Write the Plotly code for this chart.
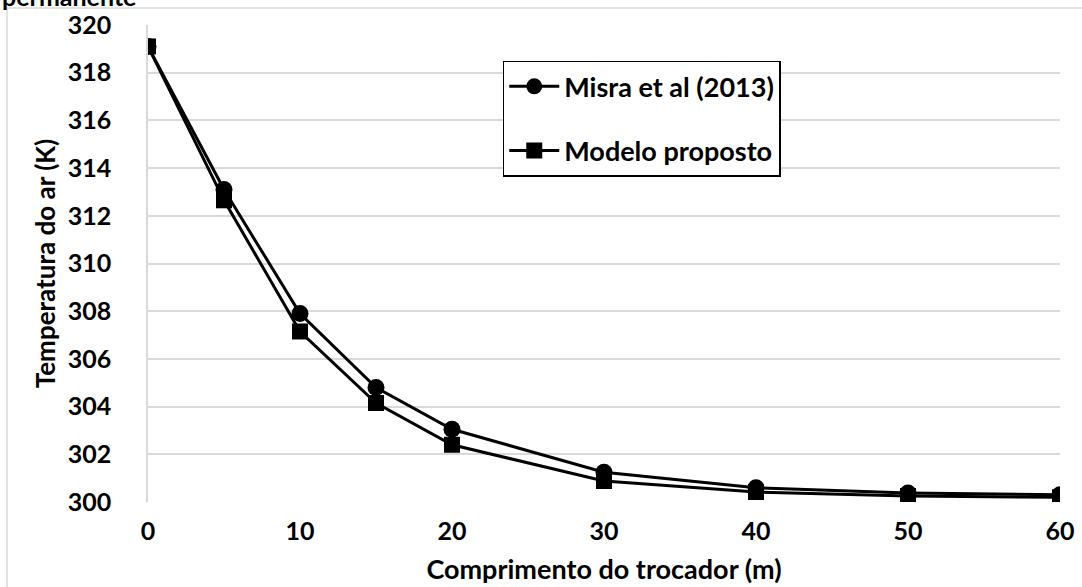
import plotly.graph_objects as go

x_vals = [0, 5, 10, 15, 20, 30, 40, 50, 60]
misra = [319.1, 313.1, 307.9, 304.8, 303.05, 301.25, 300.6, 300.38, 300.3]
modelo = [319.1, 312.65, 307.15, 304.15, 302.4, 300.88, 300.42, 300.25, 300.2]

FONT = "Lato"
FS = 25

fig = go.Figure()
fig.add_trace(go.Scatter(
    x=x_vals, y=misra, mode="lines+markers", name="Misra et al (2013)",
    line=dict(color="black", width=3),
    marker=dict(symbol="circle", size=17, color="black"),
    legendgroup="a",
))
fig.add_trace(go.Scatter(
    x=x_vals, y=modelo, mode="lines+markers", name="Modelo proposto",
    line=dict(color="black", width=3),
    marker=dict(symbol="square", size=16, color="black"),
    legendgroup="b",
))

fig.update_layout(
    width=1082, height=587,
    margin=dict(l=148, r=22, t=25, b=85),
    paper_bgcolor="white", plot_bgcolor="white",
    font=dict(family=FONT, size=FS, color="black"),
    showlegend=True,
    legend=dict(
        x=0.389, y=0.925, xanchor="left", yanchor="top",
        bordercolor="black", borderwidth=1.5, bgcolor="white",
        font=dict(family=FONT, size=27, color="black", weight="bold"),
        traceorder="grouped", tracegroupgap=26, itemwidth=50,
    ),
    xaxis=dict(
        range=[0, 60], tickvals=[0, 10, 20, 30, 40, 50, 60],
        showgrid=False, zeroline=False, showline=False, automargin=False,
        ticks="", ticklabelstandoff=12,
        tickfont=dict(family=FONT, size=FS, weight="bold"),
        title=dict(text="<b>Comprimento do trocador (m)</b>", font=dict(family=FONT, size=27), standoff=16),
    ),
    yaxis=dict(
        range=[300, 320], tickvals=list(range(300, 321, 2)),
        showgrid=True, gridcolor="#d9d9d9", gridwidth=1.5,
        zeroline=False, showline=True, linecolor="#d9d9d9", linewidth=1.5, automargin=False,
        ticks="", ticklabelstandoff=30,
        tickfont=dict(family=FONT, size=FS, weight="bold"),
        title=dict(text="<b>Temperatura do ar (K)</b>", font=dict(family=FONT, size=26), standoff=5),
    ),
    annotations=[dict(
        text="<b>permanente</b>", xref="paper", yref="paper",
        x=-0.162, y=1.026, xanchor="left", yanchor="bottom",
        showarrow=False, font=dict(family=FONT, size=FS, color="black"),
    )],
    shapes=[
        dict(type="line", xref="paper", yref="paper", x0=-0.1546, x1=1.05, y0=1.0356, y1=1.0356,
             line=dict(color="#d9d9d9", width=1.5)),
        dict(type="line", xref="paper", yref="paper", x0=-0.1546, x1=-0.1546, y0=1.0356, y1=-0.3,
             line=dict(color="#d9d9d9", width=1.5)),
    ],
)

fig.write_html("out.html", config={"displayModeBar": False},
               post_script="document.body.style.margin='0';")
